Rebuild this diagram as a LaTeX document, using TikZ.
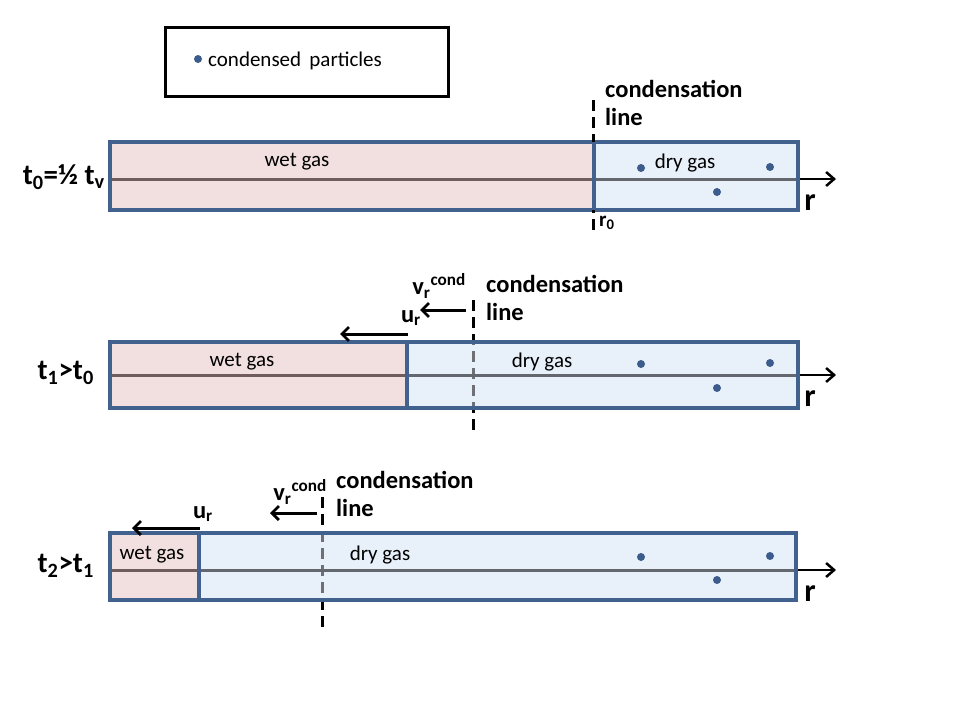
\documentclass[tikz,border=0pt]{standalone}
\usepackage{fontspec}
\setmainfont{Carlito}
\usetikzlibrary{arrows.meta}
\definecolor{wetc}{RGB}{242,223,223}
\definecolor{dryc}{RGB}{232,240,250}
\definecolor{bordc}{RGB}{65,98,143}
\definecolor{midc}{RGB}{100,104,110}
\definecolor{midw}{RGB}{112,92,92}
\definecolor{dotc}{RGB}{60,92,140}
\definecolor{condgray}{RGB}{110,112,118}
\begin{document}
\begin{tikzpicture}[x=1pt,y=-1pt,
  boxline/.style={draw=bordc,line width=3.5pt},
  midline/.style={draw=midc,line width=3pt},
  wetline/.style={draw=midw,line width=3pt},
  condline/.style={line width=3pt,dash pattern=on 11pt off 6pt},
  axarrow/.style={line width=2.5pt,-{Straight Barb[length=8pt,width=14pt,line width=2.5pt]}},
  velarrow/.style={line width=3pt,-{Straight Barb[length=7pt,width=14pt,line width=2.8pt]}},
  reg/.style={font=\fontsize{21}{23}\selectfont,inner sep=0pt},
  bld/.style={font=\fontsize{24.5}{27}\selectfont\bfseries,inner sep=0pt},
  tlab/.style={font=\fontsize{29}{31}\selectfont\bfseries,inner sep=0pt,anchor=east},
  rlab/.style={font=\fontsize{32}{34}\selectfont\bfseries,inner sep=0pt},
  pdot/.style={circle,fill=dotc,inner sep=0pt,minimum size=8pt}
]
\useasboundingbox (0,0) rectangle (960,720);

% legend
\node[draw=black,line width=3pt,minimum width=283pt,minimum height=69pt,inner sep=0pt] (legend) at (306.5,61.5) {};
\node[pdot] (ldot) at (198,59) {};
\node[reg,anchor=west] (ltext) at (208,61) {condensed\, particles};

% ---------- panel 1 ----------
\fill[wetc] (110,142) rectangle (594,210);
\fill[dryc] (594,142) rectangle (798,210);
\draw[wetline] (110,179) -- (594,179);
\draw[midline] (594,179) -- (798,179);
\coordinate (a1s) at (798,179);
\coordinate (a1e) at (836,179);
\draw[axarrow] (a1s) -- (a1e);
\draw[boxline] (110,142) rectangle (798,210);
\coordinate (c1t) at (593,100);
\coordinate (c1b) at (593,236);
\draw[condline] (c1t) -- (c1b);
\draw[boxline,line width=4.5pt] (594,142) -- (594,210);
\node[reg] (wet1) at (297,162) {wet gas};
\node[reg] (dry1) at (685,163) {dry gas};
\node[pdot] (d11) at (641,168) {};
\node[pdot] (d12) at (770,167) {};
\node[pdot] (d13) at (717,192) {};
\node[bld,anchor=west] (cond1) at (605,89) {condensation};
\node[bld,anchor=west] (line1) at (605,117) {line};
\node[rlab] (r1) at (810,203) {r};
\node[font=\fontsize{21}{23}\selectfont\bfseries,inner sep=0pt,anchor=west] (r0) at (599,223) {r\textsubscript{0}};
\node[tlab] (t0) at (105,177) {t\textsubscript{0}=½ t\textsubscript{v}};

% ---------- panel 2 ----------
\coordinate (c2t) at (473,300);
\coordinate (c2b) at (473,432);
\draw[condline] (c2t) -- (c2b);
\fill[wetc] (110,342) rectangle (407,408);
\fill[dryc] (407,342) rectangle (798,408);
\begin{scope}
  \clip (110,342) rectangle (798,408);
  \draw[condline,draw=condgray] (c2t) -- (c2b);
\end{scope}
\draw[wetline] (110,375) -- (407,375);
\draw[midline] (407,375) -- (798,375);
\coordinate (a2s) at (798,375);
\coordinate (a2e) at (836,375);
\draw[axarrow] (a2s) -- (a2e);
\draw[boxline] (110,342) rectangle (798,408);
\draw[boxline] (407,342) -- (407,408);
\node[reg] (wet2) at (242,362) {wet gas};
\node[reg] (dry2) at (542,362) {dry gas};
\node[pdot] (d21) at (641,364) {};
\node[pdot] (d22) at (770,363) {};
\node[pdot] (d23) at (717,388) {};
\node[bld,anchor=west] (cond2) at (486,284) {condensation};
\node[bld,anchor=west] (line2) at (486,312) {line};
\node[bld,anchor=east] (v2) at (466,286) {v\textsubscript{r}\textsuperscript{cond}};
\coordinate (v2s) at (466,310);
\coordinate (v2e) at (420,310);
\draw[velarrow] (v2s) -- (v2e);
\node[bld,anchor=east] (u2) at (421,318) {u\textsubscript{r}};
\coordinate (u2s) at (408,334);
\coordinate (u2e) at (340,334);
\draw[velarrow] (u2s) -- (u2e);
\node[rlab] (r2) at (810,399) {r};
\node[tlab] (t1) at (94,373) {t\textsubscript{1}>t\textsubscript{0}};

% ---------- panel 3 ----------
\coordinate (c3t) at (322,497);
\coordinate (c3b) at (322,627);
\draw[condline] (c3t) -- (c3b);
\fill[wetc] (110,533) rectangle (199,600);
\fill[dryc] (199,533) rectangle (796,600);
\begin{scope}
  \clip (110,533) rectangle (796,600);
  \draw[condline,draw=condgray] (c3t) -- (c3b);
\end{scope}
\draw[wetline] (110,570) -- (199,570);
\draw[midline] (199,570) -- (796,570);
\coordinate (a3s) at (796,570);
\coordinate (a3e) at (836,570);
\draw[axarrow] (a3s) -- (a3e);
\draw[boxline] (110,533) rectangle (796,600);
\draw[boxline] (199,533) -- (199,600);
\node[reg] (wet3) at (152,555) {wet gas};
\node[reg] (dry3) at (380,555) {dry gas};
\node[pdot] (d31) at (641,557) {};
\node[pdot] (d32) at (770,556) {};
\node[pdot] (d33) at (717,580) {};
\node[bld,anchor=west] (cond3) at (336,480) {condensation};
\node[bld,anchor=west] (line3) at (336,508) {line};
\node[bld,anchor=east] (v3) at (327,492) {v\textsubscript{r}\textsuperscript{cond}};
\coordinate (v3s) at (317,513);
\coordinate (v3e) at (270,513);
\draw[velarrow] (v3s) -- (v3e);
\node[bld,anchor=east] (u3) at (213,514) {u\textsubscript{r}};
\coordinate (u3s) at (200,528);
\coordinate (u3e) at (132,528);
\draw[velarrow] (u3s) -- (u3e);
\node[rlab] (r3) at (810,594) {r};
\node[tlab] (t2) at (94,566) {t\textsubscript{2}>t\textsubscript{1}};
\end{tikzpicture}
\end{document}
